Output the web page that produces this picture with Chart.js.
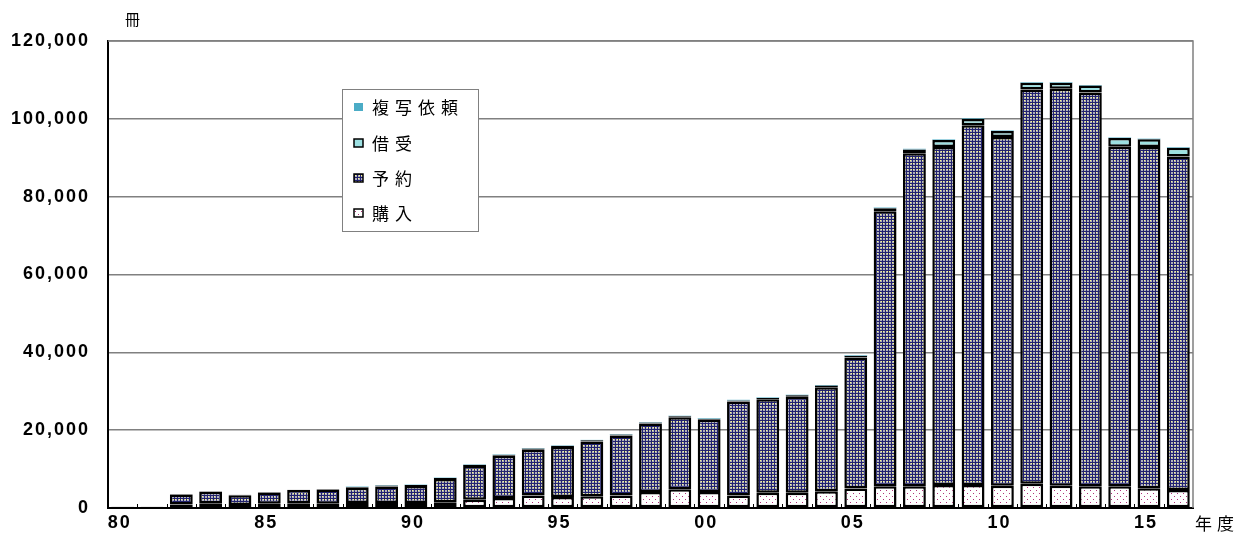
<!DOCTYPE html>
<html lang="ja">
<head>
<meta charset="UTF-8" />
<title>貸出冊数の推移</title>
<style>
  body {
    margin: 0;
    background: #fff;
  }
  #wrap {
    position: relative;
    width: 1248px;
    height: 542px;
  }
</style>
</head>
<body>
<div id="wrap"><canvas id="chart"></canvas></div>

<script src="https://cdn.jsdelivr.net/npm/chart.js"></script>
<script>
  // 年度 (1980 - 2016)
  const years = ['80','81','82','83','84','85','86','87','88','89',
                 '90','91','92','93','94','95','96','97','98','99',
                 '00','01','02','03','04','05','06','07','08','09',
                 '10','11','12','13','14','15','16'];

  // 購入
  const purchase = [300,300,900,1200,800,1100,1200,1100,1300,1300,
                    1300,1500,2100,2600,3200,2800,3000,3200,4100,4800,
                    4100,3200,3900,3900,4300,5000,5600,5600,5900,5900,
                    5700,6200,5700,5600,5600,5100,4600];
  // 予約
  const reserve = [0,0,2600,3000,2500,2900,3400,3650,3900,4250,
                   4350,5950,8700,10800,11800,12900,14100,15400,17600,18500,
                   18550,24150,24050,24700,26750,33650,70650,85550,86850,92450,
                   89650,101350,102050,101150,87250,87650,85750];
  // 借受
  const borrow = [0,0,100,100,100,100,100,150,200,250,
                  250,250,300,300,300,300,300,300,300,300,
                  300,300,300,350,400,500,800,1000,1800,1600,
                  1500,1700,1500,1800,2200,2000,2200];
  // 複写依頼
  const copyReq = [0,0,0,0,0,0,0,0,100,100,
                   100,100,100,100,100,100,100,100,100,100,
                   150,150,150,150,150,150,150,150,150,150,
                   150,150,150,150,150,150,150];

  const yTicks = [0, 20000, 40000, 60000, 80000, 100000, 120000];

  // 塗りつぶしパターン
  function makePattern(size, draw) {
    const c = document.createElement('canvas');
    c.width = size;
    c.height = size;
    draw(c.getContext('2d'));
    return c.getContext('2d').createPattern(c, 'repeat');
  }

  const reservePattern = makePattern(6, g => {
    g.fillStyle = '#22226e';
    g.fillRect(0, 0, 6, 6);
    g.fillStyle = '#b0b0bc';
    g.fillRect(1, 1, 2, 2);
    g.fillRect(4, 1, 2, 2);
    g.fillRect(1, 4, 2, 2);
    g.fillRect(4, 4, 2, 2);
    g.fillStyle = '#ffff88';
    g.fillRect(1, 1, 1, 1);
    g.fillRect(4, 4, 1, 1);
    g.fillRect(5, 1, 1, 1);
  });

  const purchasePattern = makePattern(6, g => {
    g.fillStyle = '#ffffff';
    g.fillRect(0, 0, 6, 6);
    g.fillStyle = '#b0307a';
    g.fillRect(1, 1, 1, 1);
    g.fillRect(4, 4, 1, 1);
  });

  const FONT_NUM = '"Liberation Sans", Arial, sans-serif';
  const FONT_JP = '"Noto Sans CJK JP", sans-serif';

  // 軸ラベルの字間
  const spacingPlugin = {
    id: 'spacing',
    beforeLayout(chart) { chart.ctx.letterSpacing = '2px'; },
    beforeDraw(chart) { chart.ctx.letterSpacing = '2px'; }
  };

  // 枠線・目盛り・単位・凡例
  const decoPlugin = {
    id: 'deco',
    beforeDatasetsDraw(chart) {
      const c = chart.ctx;
      const a = chart.chartArea;
      c.save();
      c.strokeStyle = '#808080';
      c.lineWidth = 1.5;
      c.beginPath();
      c.moveTo(a.left, a.top);
      c.lineTo(a.right, a.top);
      c.lineTo(a.right, a.bottom);
      c.stroke();
      c.restore();
    },
    afterDraw(chart) {
      const c = chart.ctx;
      const a = chart.chartArea;
      const xs = chart.scales.x;
      c.save();

      // x 軸の小目盛り
      const step = (xs.right - xs.left) / years.length;
      c.strokeStyle = '#000';
      c.lineWidth = 1;
      for (let i = 1; i < years.length; i++) {
        const x = Math.round(xs.left + i * step) + 0.5;
        c.beginPath();
        c.moveTo(x, a.bottom - 4);
        c.lineTo(x, a.bottom);
        c.stroke();
      }

      // 単位
      c.fillStyle = '#000';
      c.textBaseline = 'middle';
      c.letterSpacing = '0px';
      c.font = '15px ' + FONT_JP;
      c.fillText('冊', 125, 19);
      c.letterSpacing = '5px';
      c.font = '17px ' + FONT_JP;
      c.fillText('年度', 1195, 524);

      // 凡例
      const bx = 342, by = 89, bw = 136, bh = 142;
      c.fillStyle = '#fff';
      c.fillRect(bx, by, bw, bh);
      c.strokeStyle = '#808080';
      c.lineWidth = 1;
      c.strokeRect(bx + 0.5, by + 0.5, bw, bh);

      const rows = [107, 143, 178, 213];
      const items = chart.data.datasets.slice().reverse();
      items.forEach((ds, i) => {
        const cy = rows[i];
        c.fillStyle = ds.backgroundColor;
        c.fillRect(354, cy - 4, 9, 8);
        if (ds.borderWidth) {
          c.strokeStyle = '#000';
          c.lineWidth = 1.5;
          c.strokeRect(354, cy - 4, 9, 8);
        }
        c.fillStyle = '#000';
        c.font = '17px ' + FONT_JP;
        c.letterSpacing = '6px';
        c.textBaseline = 'middle';
        c.fillText(ds.label, 372, cy + 1);
      });
      c.restore();
    }
  };

  const ctx = document.getElementById('chart').getContext('2d');
  const chart = new Chart(ctx, {
    type: 'bar',
    data: {
      labels: years,
      datasets: [
        {
          label: '購入',
          data: purchase,
          backgroundColor: purchasePattern,
          borderColor: '#000',
          borderWidth: 2.5,
          borderSkipped: false
        },
        {
          label: '予約',
          data: reserve,
          backgroundColor: reservePattern,
          borderColor: '#000',
          borderWidth: 2.5,
          borderSkipped: false
        },
        {
          label: '借受',
          data: borrow,
          backgroundColor: '#9de0e2',
          borderColor: '#000',
          borderWidth: 2.5,
          borderSkipped: false
        },
        {
          label: '複写依頼',
          data: copyReq,
          backgroundColor: '#4bacc6',
          borderWidth: 0
        }
      ]
    },
    options: {
      responsive: true,
      maintainAspectRatio: false,
      animation: false,
      layout: {
        padding: { left: 0, right: 55, top: 41, bottom: 0 }
      },
      datasets: {
        bar: {
          barPercentage: 0.78,
          categoryPercentage: 1.0
        }
      },
      scales: {
        x: {
          stacked: true,
          grid: { display: false, drawTicks: false },
          border: { color: '#000', width: 2 },
          ticks: {
            autoSkip: false,
            maxRotation: 0,
            padding: 4,
            labelOffset: -3,
            color: '#000',
            font: { family: FONT_NUM, size: 18, weight: 'bold' },
            callback: (v, i) => (i % 5 === 0 ? years[i] : '')
          },
          afterFit: s => { s.height = 34; }
        },
        y: {
          stacked: true,
          min: 0,
          max: 120000,
          afterBuildTicks: s => { s.ticks = yTicks.map(v => ({ value: v })); },
          grid: { color: '#808080', lineWidth: 1.5, drawTicks: false },
          border: { color: '#000', width: 2 },
          ticks: {
            padding: 18,
            color: '#000',
            font: { family: FONT_NUM, size: 18, weight: 'bold' },
            callback: v => v.toLocaleString('en-US')
          },
          afterFit: s => { s.width = 108; }
        }
      },
      plugins: {
        legend: { display: false },
        tooltip: { enabled: false }
      }
    },
    plugins: [spacingPlugin, decoPlugin]
  });
</script>
</body>
</html>
